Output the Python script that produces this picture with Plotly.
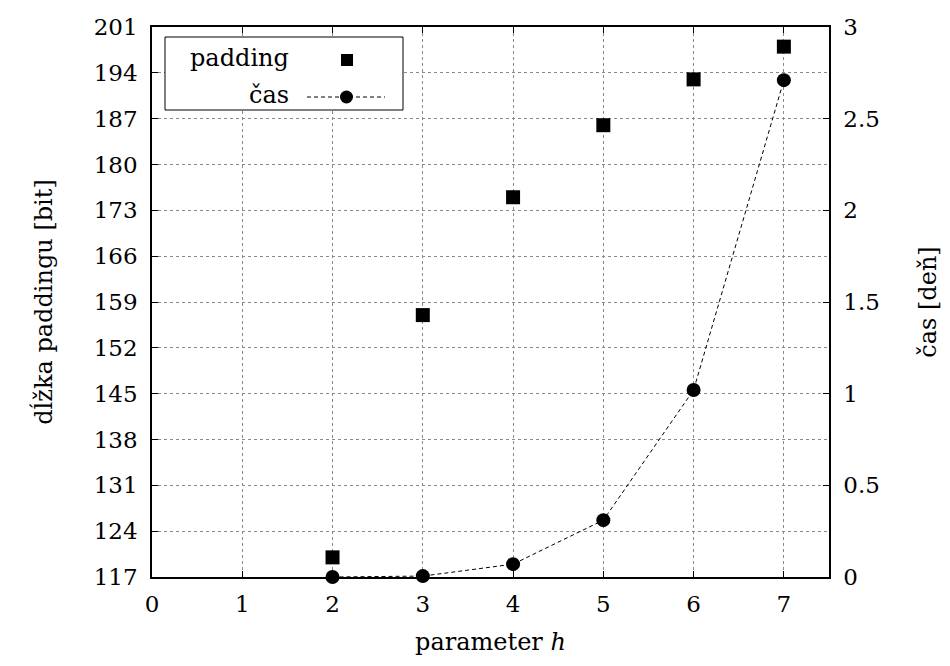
import plotly.graph_objects as go

h = [2, 3, 4, 5, 6, 7]
padding = [120, 157, 175, 186, 193, 198]
cas = [0.0, 0.005, 0.07, 0.31, 1.02, 2.71]

x_ticks = [0, 1, 2, 3, 4, 5, 6, 7]
left_ticks = list(range(117, 202, 7))
right_ticks = [0, 0.5, 1, 1.5, 2, 2.5, 3]
right_labels = ["0", "0.5", "1", "1.5", "2", "2.5", "3"]

FONT = "DejaVu Serif"
TS = 23
fig = go.Figure()
fig.add_trace(go.Scatter(x=h, y=padding, mode="markers", name="padding",
                         marker=dict(symbol="square", size=14, color="black"),
                         yaxis="y", showlegend=False))
fig.add_trace(go.Scatter(x=h, y=cas, mode="lines+markers", name="čas",
                         line=dict(color="black", width=1, dash="4px,3px"),
                         marker=dict(symbol="circle", size=14, color="black"),
                         yaxis="y2", showlegend=False, cliponaxis=False))

axis_common = dict(showline=True, linecolor="black", linewidth=1.5,
                   ticks="inside", ticklen=6, tickwidth=1, tickcolor="black",
                   tickfont=dict(family=FONT, size=TS, color="black"),
                   zeroline=False)

fig.update_layout(
    width=950, height=666,
    margin=dict(l=152, r=121, t=27, b=89),
    plot_bgcolor="white", paper_bgcolor="white",
    font=dict(family=FONT, size=TS, color="black"),
    xaxis=dict(range=[0, 7.5], tickvals=x_ticks, mirror="ticks",
               showgrid=True, gridcolor="#8a8a8a", griddash="dot", gridwidth=1,
               title=dict(text="parameter <i>h</i>", font=dict(family=FONT, size=24), standoff=17),
               ticklabelstandoff=6, **axis_common),
    yaxis=dict(range=[117, 201], tickvals=left_ticks, mirror=False,
               showgrid=True, gridcolor="#8a8a8a", griddash="dot", gridwidth=1,
               title=dict(text="dĺžka paddingu [bit]", font=dict(family=FONT, size=24), standoff=34),
               ticklabelstandoff=8, **axis_common),
    yaxis2=dict(range=[0, 3], tickvals=right_ticks, ticktext=right_labels,
                overlaying="y", side="right", showgrid=False,
                title=dict(text="čas [deň]", font=dict(family=FONT, size=24), standoff=40),
                ticklabelstandoff=8, **axis_common),
)

# gnuplot-style key box
fig.add_shape(type="rect", xref="paper", yref="paper",
              x0=(165 - 152) / 677, x1=(403 - 152) / 677,
              y0=(577 - 110) / 550, y1=(577 - 37) / 550,
              line=dict(color="black", width=1), fillcolor="white", layer="above")
fig.add_annotation(xref="paper", yref="paper", x=(291 - 152) / 677, y=(577 - 58) / 550,
                   text="padding", showarrow=False, xanchor="right", yanchor="middle",
                   font=dict(family=FONT, size=24))
fig.add_annotation(xref="paper", yref="paper", x=(291 - 152) / 677, y=(577 - 95) / 550,
                   text="čas", showarrow=False, xanchor="right", yanchor="middle",
                   font=dict(family=FONT, size=24))
# key samples
fig.add_shape(type="rect", xref="paper", yref="paper",
              x0=(341 - 152) / 677, x1=(353 - 152) / 677,
              y0=(577 - 66) / 550, y1=(577 - 54) / 550,
              line=dict(color="black", width=0), fillcolor="black", layer="above")
fig.add_shape(type="line", xref="paper", yref="paper",
              x0=(307 - 152) / 677, x1=(385 - 152) / 677,
              y0=(577 - 97) / 550, y1=(577 - 97) / 550,
              line=dict(color="black", width=1, dash="4px,3px"), layer="above")
fig.add_shape(type="circle", xref="paper", yref="paper",
              x0=(340 - 152) / 677, x1=(353 - 152) / 677,
              y0=(577 - 103.5) / 550, y1=(577 - 90.5) / 550,
              line=dict(color="black", width=0), fillcolor="black", layer="above")

fig.write_html("out.html")
